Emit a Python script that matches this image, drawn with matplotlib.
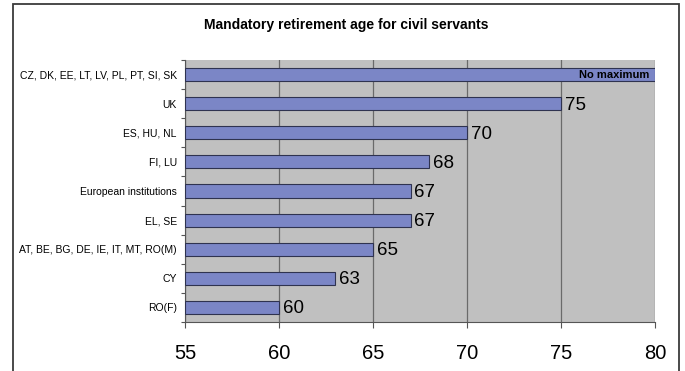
import numpy as np
import matplotlib
matplotlib.use('Agg')
import matplotlib.pyplot as plt
from matplotlib.patches import Rectangle

# data (top to bottom, as in the chart)
groups = ['CZ, DK, EE, LT, LV, PL, PT, SI, SK', 'UK', 'ES, HU, NL', 'FI, LU',
          'European institutions', 'EL, SE', 'AT, BE, BG, DE, IE, IT, MT, RO(M)',
          'CY', 'RO(F)']
ages = [80, 75, 70, 68, 67, 67, 65, 63, 60]
valueLabels = ['No maximum', '75', '70', '68', '67', '67', '65', '63', '60']
xTicks = [55, 60, 65, 70, 75, 80]

narrow = ['Liberation Sans Narrow', 'Liberation Sans', 'DejaVu Sans']

def make_plot():
    fig = plt.figure(figsize=(6.85, 3.71), dpi=100)
    fig.patch.set_facecolor('white')
    ax = fig.add_axes([185/685, 49/371, 470/685, 262/371])
    ax.set_facecolor('#c0c0c0')

    n = len(groups)
    ypos = np.arange(n)[::-1]
    ax.barh(ypos, np.array(ages) - 55, left=55, height=0.45,
            color='#7b86c6', edgecolor='#2f3350', linewidth=0.8, zorder=3)

    ax.set_xlim(55, 80)
    ax.set_ylim(-0.5, n - 0.5)
    ax.set_xticks(xTicks)
    ax.set_xticklabels([str(t) for t in xTicks], fontsize=14.5, family=narrow)
    ax.xaxis.grid(True, color='#6a6a6a', linewidth=0.9, zorder=1)
    ax.set_axisbelow(True)

    # category ticks sit on the boundaries, labels in the middle
    ax.set_yticks(np.arange(-0.5, n, 1.0))
    ax.set_yticklabels([])
    ax.set_yticks(ypos, minor=True)
    ax.set_yticklabels(groups, minor=True, fontsize=7.5, family=narrow)
    ax.tick_params(axis='y', which='minor', length=0, pad=6)
    ax.tick_params(axis='y', which='major', length=3, color='#555555')
    ax.tick_params(axis='x', length=4, color='#555555', pad=12)

    for s in ['top', 'right']:
        ax.spines[s].set_visible(False)
    ax.spines['left'].set_color('#555555')
    ax.spines['bottom'].set_color('#555555')

    for y, v, lab in zip(ypos, ages, valueLabels):
        if lab == 'No maximum':
            ax.text(v - 0.3, y, lab, ha='right', va='center', fontsize=8,
                    fontweight='bold', family=narrow, zorder=4)
        else:
            ax.text(v + 0.2, y - 0.05, lab, ha='left', va='center', fontsize=13.5,
                    family=narrow, zorder=4)

    fig.text(0.505, 1 - 25/371, 'Mandatory retirement age for civil servants',
             ha='center', va='center', fontsize=10, fontweight='bold',
             family=['Liberation Sans', 'DejaVu Sans'])

    # outer frame of the chart
    fig.patches.append(Rectangle((13/685, -0.05), 666/685, 1.05 - 3.5/371,
                                 transform=fig.transFigure, fill=False,
                                 edgecolor='#3a3a3a', linewidth=1.3))

    plt.savefig('out.png', dpi=100)

make_plot()
